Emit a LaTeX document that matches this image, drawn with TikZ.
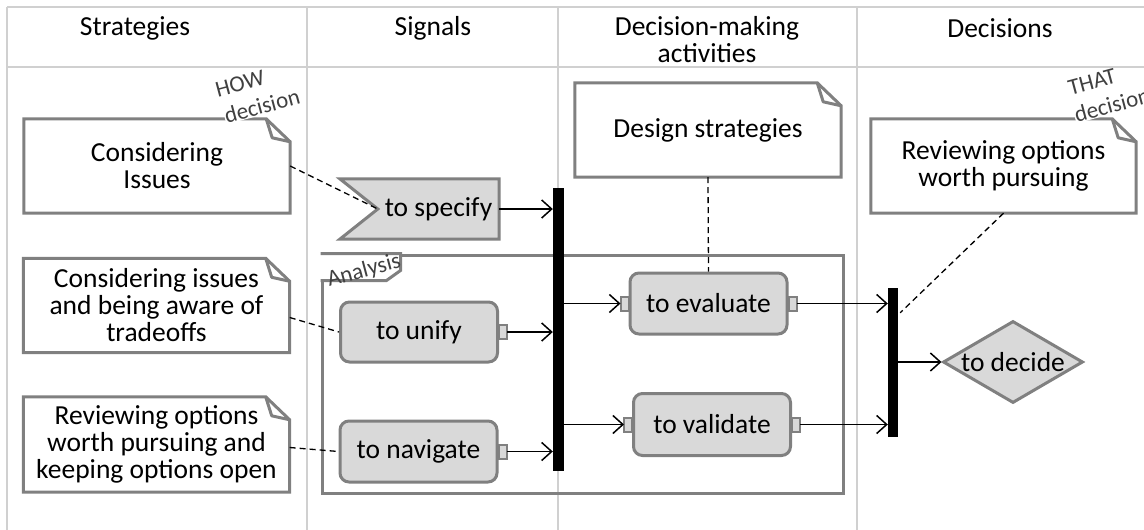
\documentclass[tikz,border=0pt]{standalone}
\usepackage{fontspec}
\setmainfont{Carlito}
\usetikzlibrary{arrows.meta,shapes.geometric,backgrounds}
\definecolor{gridc}{HTML}{D0D0D0}
\definecolor{edgec}{HTML}{808080}
\definecolor{boxc}{HTML}{D9D9D9}
\definecolor{labc}{HTML}{404040}
\newcommand\bodyfont{\fontsize{27.5}{27}\selectfont}
\newcommand\labfont{\fontsize{23}{27}\selectfont}
\newcommand\dogear[1]{%
  \draw[notedraw] (#1.north west) -- ([xshift=-24pt]#1.north east) -- ([yshift=-23pt]#1.north east) -- (#1.south east) -- (#1.south west) -- cycle;
  \draw[notedraw, line join=round] ([xshift=-24pt]#1.north east) -- ([xshift=-18pt,yshift=-19pt]#1.north east) -- ([yshift=-23pt]#1.north east);}
\newcommand\pinR[1]{\draw[pinst] ([yshift=-7pt]#1.east) rectangle ([xshift=8pt,yshift=7pt]#1.east);}
\newcommand\pinL[1]{\draw[pinst] ([yshift=-7pt]#1.west) rectangle ([xshift=-8pt,yshift=7pt]#1.west);}
\begin{document}
\begin{tikzpicture}[x=1pt,y=-1pt,
  gridline/.style={draw=gridc, line width=1.5pt},
  hdr/.style={font=\bodyfont, align=center, inner sep=0pt},
  notebox/.style={minimum width=266pt, minimum height=94pt, inner sep=0pt, align=center, font=\bodyfont},
  notedraw/.style={draw=edgec, line width=3pt},
  actbox/.style={draw=edgec, fill=boxc, line width=3pt, rounded corners=9pt, minimum width=157pt, minimum height=60pt, inner sep=0pt, font=\bodyfont},
  pinst/.style={draw=edgec, fill=boxc, line width=2pt},
  barbox/.style={fill=black, draw=none, inner sep=0pt},
  arr/.style={draw=black, line width=1.5pt, -{Straight Barb[length=10pt,width=18pt]}},
  dashline/.style={draw=black, line width=1.3pt, dash pattern=on 6pt off 4pt},
  lab/.style={font=\labfont, text=labc, inner sep=0.5pt, rotate=15},
]
\useasboundingbox (0,0) rectangle (1144,530);
\begin{scope}[on background layer]
  \fill[white] (0,0) rectangle (1144,530);
  \draw[gridline] (7,7) -- (1144,7);
  \draw[gridline] (7,67) -- (1144,67);
  \draw[gridline] (7,7) -- (7,530);
  \draw[gridline] (307,7) -- (307,530);
  \draw[gridline] (558,7) -- (558,530);
  \draw[gridline] (857,7) -- (857,530);
\end{scope}

% headers
\node[hdr] (hS) at (135,28) {Strategies};
\node[hdr] (hSig) at (433,28) {Signals};
\node[hdr] (hDM) at (707,40) {Decision-making\\activities};
\node[hdr] (hD) at (1000,28) {Decisions};

% analysis frame
\node[draw=edgec, line width=3pt, minimum width=521pt, minimum height=238pt, inner sep=0pt] (ana) at (582.5,374) {};
\draw[notedraw, fill=white] (ana.north west) -- ++(80,0) -- ++(0,17) -- ++(-14,10) -- ([yshift=-27pt]ana.north west);
\node[lab] (analab) at (364,271) {Analysis};

% notes
\node[notebox] (n1) at (157,166) {Considering\\Issues};
\node[notebox] (n2) at (156.5,305.5) {Considering issues\\and being aware of\\tradeoffs};
\node[notebox, minimum height=95pt] (n3) at (156.5,444.5) {Reviewing options\\worth pursuing and\\keeping options open};
\node[notebox] (nD) at (708,130) {Design strategies};
\node[notebox, minimum width=265pt] (nR) at (1003.5,166) {Reviewing options\\worth pursuing};
\dogear{n1}
\dogear{n2}
\dogear{n3}
\dogear{nD}
\dogear{nR}

\node[lab] (how1) at (240,84) {HOW};
\node[lab, fill=white] (how2) at (262,106) {decision};
\node[lab] (that1) at (1092,82) {THAT};
\node[lab, fill=white] (that2) at (1112,105) {decision};

% signal flag
\node[font=\bodyfont, minimum width=121pt, minimum height=60pt, inner sep=0pt] (spec) at (438.5,209) {to specify};
\begin{scope}[on background layer]
  \draw[draw=edgec, fill=boxc, line width=3pt] (spec.north east) -- (spec.south east) -- ([xshift=-38pt]spec.south west) -- (spec.west) -- ([xshift=-38pt]spec.north west) -- cycle;
\end{scope}

% activities
\node[actbox] (unify) at (419,332) {to unify};
\node[actbox, minimum height=61pt] (nav) at (418.5,451.5) {to navigate};
\node[actbox, minimum height=61pt] (eval) at (708.5,303.5) {to evaluate};
\node[actbox, minimum height=62pt] (valid) at (712,424.5) {to validate};
\pinR{unify}
\pinR{nav}
\pinL{eval}
\pinR{eval}
\pinL{valid}
\pinR{valid}

% bars
\node[barbox, minimum width=11pt, minimum height=283pt] (bar1) at (558.5,329.5) {};
\node[barbox, minimum width=10pt, minimum height=149pt] (bar2) at (893,362.5) {};

% decision
\node[diamond, draw=edgec, fill=boxc, line width=3pt, aspect=1.7, inner sep=0pt, minimum width=140pt, minimum height=82pt, font=\bodyfont] (decide) at (1013,362) {to decide};

% arrows
\draw[arr] (spec.east) -- (spec.east -| bar1.west);
\draw[arr] ([xshift=8pt]unify.east) -- (unify.east -| bar1.west);
\draw[arr] ([xshift=8pt]nav.east) -- (nav.east -| bar1.west);
\draw[arr] (bar1.east |- eval.west) -- ([xshift=-8pt]eval.west);
\draw[arr] (bar1.east |- valid.west) -- ([xshift=-8pt]valid.west);
\draw[arr] ([xshift=8pt]eval.east) -- (eval.east -| bar2.west);
\draw[arr] ([xshift=8pt]valid.east) -- (valid.east -| bar2.west);
\draw[arr] (bar2.east |- decide.west) -- (decide.west);

% dashed
\draw[dashline] (n1.east) -- (spec.west);
\draw[dashline] ([yshift=-12pt]n2.east) -- (unify.west);
\draw[dashline] ([yshift=-3pt]n3.east) -- (nav.west);
\draw[dashline] (nD.south) -- (eval.north);
\draw[dashline] (nR.south) -- ([xshift=2pt,yshift=-25pt]bar2.north east);
\end{tikzpicture}
\end{document}
